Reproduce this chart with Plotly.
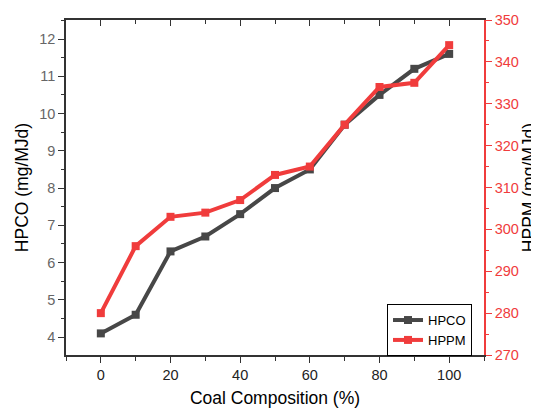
import plotly.graph_objects as go

coal = [0, 10, 20, 30, 40, 50, 60, 70, 80, 90, 100]
hpco = [4.1, 4.6, 6.3, 6.7, 7.3, 8.0, 8.5, 9.7, 10.5, 11.2, 11.6]
hppm = [280, 296, 303, 304, 307, 313, 315, 325, 334, 335, 344]

GRAY = "#474747"
RED = "#f03c3c"
FONT = "Arial, Liberation Sans, sans-serif"

fig = go.Figure()
fig.add_trace(go.Scatter(x=coal, y=hpco, name="HPCO", mode="lines+markers",
                         line=dict(color=GRAY, width=4),
                         marker=dict(symbol="square", size=8, color=GRAY)))
fig.add_trace(go.Scatter(x=coal, y=hppm, name="HPPM", mode="lines+markers",
                         line=dict(color=RED, width=4),
                         marker=dict(symbol="square", size=8, color=RED),
                         yaxis="y2"))
fig.add_trace(go.Scatter(x=[None], y=[None], xaxis="x2", showlegend=False, hoverinfo="skip"))

# page has an 8px body margin; margins compensate so the plot area lands where the reference has it
fig.update_layout(
    width=539, height=408,
    margin=dict(l=58, r=63, t=12, b=61),
    plot_bgcolor="white", paper_bgcolor="white",
    font=dict(family=FONT, size=14, color="#222"),
    showlegend=True,
    legend=dict(x=0.768, y=0.152, xanchor="left", yanchor="top",
                bgcolor="white", bordercolor="black", borderwidth=1,
                font=dict(size=13, color="black"),
                tracegroupgap=0, itemwidth=30),
    xaxis=dict(range=[-10, 110], tickvals=[0, 20, 40, 60, 80, 100], automargin=False,
               ticks="outside", ticklen=6, tickcolor="#333", showline=True,
               linecolor="#333", linewidth=1.5, showgrid=False, zeroline=False,
               minor=dict(dtick=10, tick0=0, ticks="outside", ticklen=4, tickcolor="#333"),
               tickfont=dict(size=14.5, color="#222"),
               title=dict(text="Coal Composition (%)", font=dict(size=17.5, color="black"), standoff=10)),
    xaxis2=dict(range=[-10, 110], overlaying="x", side="top", tickvals=[0, 20, 40, 60, 80, 100],
                automargin=False,
                ticks="inside", ticklen=6, tickcolor="#333", showline=True,
                linecolor="#333", linewidth=1.5, showgrid=False, zeroline=False,
                showticklabels=False,
                minor=dict(dtick=10, tick0=0, ticks="inside", ticklen=4, tickcolor="#333")),
    yaxis=dict(range=[3.52, 12.51], dtick=1, tick0=0, ticks="outside", ticklen=6, automargin=False,
               tickcolor="#333", showline=True, linecolor="#333", linewidth=1.5,
               showgrid=False, zeroline=False,
               minor=dict(dtick=0.5, tick0=0, ticks="outside", ticklen=3, tickcolor="#333"),
               tickfont=dict(size=14.5, color="#666"),
               title=dict(text="HPCO (mg/MJd)", font=dict(size=17.5, color="black"), standoff=6)),
    yaxis2=dict(range=[270, 350], dtick=10, tick0=0, overlaying="y", side="right", automargin=False,
                ticks="outside", ticklen=6, tickcolor=RED, showline=True,
                linecolor=RED, linewidth=1.5, showgrid=False, zeroline=False,
                minor=dict(dtick=5, tick0=0, ticks="outside", ticklen=3, tickcolor=RED),
                tickfont=dict(size=14.5, color=RED),
                title=dict(text="HPPM (mg/MJd)", font=dict(size=17.5, color="black"), standoff=3)),
)

fig.write_html("out.html")
